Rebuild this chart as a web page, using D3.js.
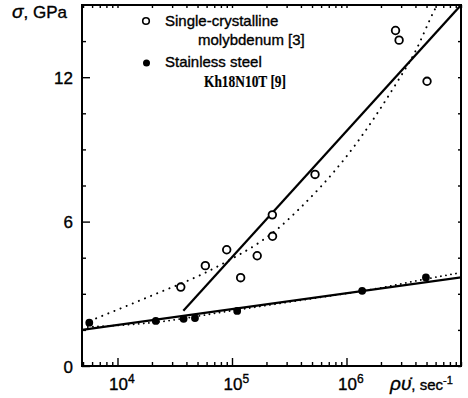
<!DOCTYPE html>
<html><head><meta charset="utf-8">
<script src="https://cdn.jsdelivr.net/npm/d3@7"></script>
<style>
body{margin:0;background:#fff}
svg{display:block}
text{font-family:"Liberation Sans",Arial,Helvetica,sans-serif;fill:#000;stroke:#000;stroke-width:0.35px}
</style>
</head><body>
<svg id="c" width="468" height="398"></svg>
<script>
// ---- data ----
const yMajorTicks = [0, 6, 12];
const yMinorTicks = [1.5, 3, 4.5, 7.5, 9, 10.5, 13.5];
const xMajorTicks = [1e4, 1e5, 1e6];
const xTickBase = ["10", "10", "10"];
const xTickExp = ["4", "5", "6"];

// Single-crystalline molybdenum [3] (open circles)
const moRate   = [3.57e4, 5.85e4, 8.99e4, 1.19e5, 1.66e5, 2.25e5, 2.26e5, 5.31e5, 2.68e6, 2.88e6, 5.05e6];
const moStress = [3.28,   4.17,   4.83,   3.67,   4.58,   6.28,   5.39,   7.96,   13.94,  13.54,  11.83];

// Stainless steel Kh18N10T [9] (filled circles)
const stRate   = [5.67e3, 2.16e4, 3.78e4, 4.75e4, 1.11e5, 1.37e6, 4.94e6];
const stStress = [1.80,   1.875,  1.96,   1.99,   2.29,   3.125,  3.68];

// solid fit lines (end points)
const moFitRate = [3.76e4, 1e7];
const moFitStress = [2.30, 15.0];
const stFitRate = [4.9e3, 1e7];
const stFitStress = [1.50, 3.68];

// dotted trend curves
const moTrendRate   = [5.75e3, 2.17e4, 5.58e4, 1.11e5, 1.62e5, 2.52e5, 3.85e5, 9.7e5, 1.16e6, 2.76e6, 3.96e6, 5.93e6, 6.2e6];
const moTrendStress = [1.875,  3.0,    3.83,   4.58,   5.04,   5.71,   6.52,   8.63,  9.11,   11.79,  13.04,  14.83,  15.0];
const stTrendRate   = [5.5e3, 2.0e4, 1.0e5, 5.0e5, 2.0e6, 5.0e6, 1.0e7];
const stTrendStress = [1.62,  1.80,  2.30,  2.80,  3.25,  3.62,  3.88];

// ---- drawing ----
const svg = d3.select("#c");
const L = 82, R = 461, T = 5, B = 366;
const x = d3.scaleLog().domain([Math.pow(10, 3.69), 1e7]).range([L, R]);
const y = d3.scaleLinear().domain([0, 15]).range([B, T]);

const minorX = x.ticks().filter(v => !xMajorTicks.includes(v));

// bottom axis ticks (inward)
svg.append("g").attr("transform", `translate(0,${B})`)
  .call(d3.axisBottom(x).tickValues(minorX).tickSize(-4).tickFormat(""))
  .call(g => g.select(".domain").remove());
const bx = svg.append("g").attr("transform", `translate(0,${B})`)
  .call(d3.axisBottom(x).tickValues(xMajorTicks).tickSize(-8).tickFormat(""))
  .call(g => g.select(".domain").remove());
bx.selectAll(".tick").each(function(d, i) {
  const t = d3.select(this).append("text")
    .attr("x", -9).attr("y", 24).attr("text-anchor", "start")
    .style("font-size", "17px");
  t.append("tspan").text(xTickBase[i]);
  t.append("tspan").attr("dy", -7).style("font-size", "12px").text(xTickExp[i]);
});
// top axis minor ticks
svg.append("g").attr("transform", `translate(0,${T})`)
  .call(d3.axisTop(x).tickValues(x.ticks()).tickSize(-3).tickFormat(""))
  .call(g => g.select(".domain").remove());

// left axis
svg.append("g").attr("transform", `translate(${L},0)`)
  .call(d3.axisLeft(y).tickValues(yMinorTicks).tickSize(-4).tickFormat(""))
  .call(g => g.select(".domain").remove());
svg.append("g").attr("transform", `translate(${L},0)`)
  .call(d3.axisLeft(y).tickValues(yMajorTicks).tickSize(-8).tickPadding(9).tickFormat(d3.format("d")))
  .call(g => g.select(".domain").remove())
  .call(g => g.selectAll("text").style("font-size", "17px").attr("dy", "0.36em"));
// right axis ticks
svg.append("g").attr("transform", `translate(${R},0)`)
  .call(d3.axisRight(y).tickValues(yMinorTicks.concat(yMajorTicks)).tickSize(-3).tickFormat(""))
  .call(g => g.select(".domain").remove());

svg.selectAll(".tick line").attr("stroke", "#000").attr("stroke-width", 1.4);

// frame
svg.append("rect").attr("x", L).attr("y", T).attr("width", R - L).attr("height", B - T)
  .attr("fill", "none").attr("stroke", "#000").attr("stroke-width", 2);

const plot = svg.append("g");
svg.append("clipPath").attr("id", "pc").append("rect")
  .attr("x", L).attr("y", T).attr("width", R - L).attr("height", B - T);
plot.attr("clip-path", "url(#pc)");

const line = d3.line().x(d => x(d[0])).y(d => y(d[1]));
const curve = d3.line().x(d => x(d[0])).y(d => y(d[1])).curve(d3.curveMonotoneX);

// dotted trend curves
plot.append("path").datum(d3.zip(moTrendRate, moTrendStress)).attr("d", curve)
  .attr("fill", "none").attr("stroke", "#000").attr("stroke-width", 2)
  .attr("stroke-linecap", "round").attr("stroke-dasharray", "0.1 6.5");
plot.append("path").datum(d3.zip(stTrendRate, stTrendStress)).attr("d", curve)
  .attr("fill", "none").attr("stroke", "#000").attr("stroke-width", 1.8)
  .attr("stroke-linecap", "round").attr("stroke-dasharray", "0.1 5");

// solid fits
plot.append("path").datum(d3.zip(moFitRate, moFitStress)).attr("d", line)
  .attr("fill", "none").attr("stroke", "#000").attr("stroke-width", 2.2);
plot.append("path").datum(d3.zip(stFitRate, stFitStress)).attr("d", line)
  .attr("fill", "none").attr("stroke", "#000").attr("stroke-width", 2.2);

// markers
plot.selectAll("circle.mo").data(d3.zip(moRate, moStress)).join("circle")
  .attr("class", "mo").attr("cx", d => x(d[0])).attr("cy", d => y(d[1])).attr("r", 3.8)
  .attr("fill", "#fff").attr("stroke", "#000").attr("stroke-width", 1.8);
plot.selectAll("circle.st").data(d3.zip(stRate, stStress)).join("circle")
  .attr("class", "st").attr("cx", d => x(d[0])).attr("cy", d => y(d[1])).attr("r", 3.9)
  .attr("fill", "#000");

// legend
svg.append("circle").attr("cx", 146).attr("cy", 21).attr("r", 3.3)
  .attr("fill", "#fff").attr("stroke", "#000").attr("stroke-width", 1.6);
svg.append("circle").attr("cx", 146.5).attr("cy", 63).attr("r", 3.5).attr("fill", "#000");
svg.append("text").attr("x", 165).attr("y", 26).style("font-size", "15px").text("Single-crystalline");
svg.append("text").attr("x", 198).attr("y", 45).style("font-size", "15px").text("molybdenum [3]");
svg.append("text").attr("x", 165).attr("y", 67).style("font-size", "15px").text("Stainless steel");
svg.append("text").attr("x", 204).attr("y", 87)
  .attr("textLength", 82).attr("lengthAdjust", "spacingAndGlyphs")
  .style("font-family", "'Liberation Serif','Times New Roman',serif").style("font-weight", "bold")
  .style("stroke-width", "0.2px")
  .style("font-size", "16.5px").text("Kh18N10T [9]");

// axis titles
const yt = svg.append("text").attr("x", 12).attr("y", 18).style("font-size", "17px");
yt.append("tspan").style("font-style", "italic").style("font-size", "19px").text("σ");
yt.append("tspan").text(", GPa");

const xt = svg.append("text").attr("x", 390).attr("y", 390);
xt.append("tspan").style("font-style", "italic").style("font-size", "19px").text("ρυ\u0307");
xt.append("tspan").style("font-size", "15px").text(", sec");
xt.append("tspan").attr("dy", -6).style("font-size", "11px").text("-1");
</script>
</body></html>
